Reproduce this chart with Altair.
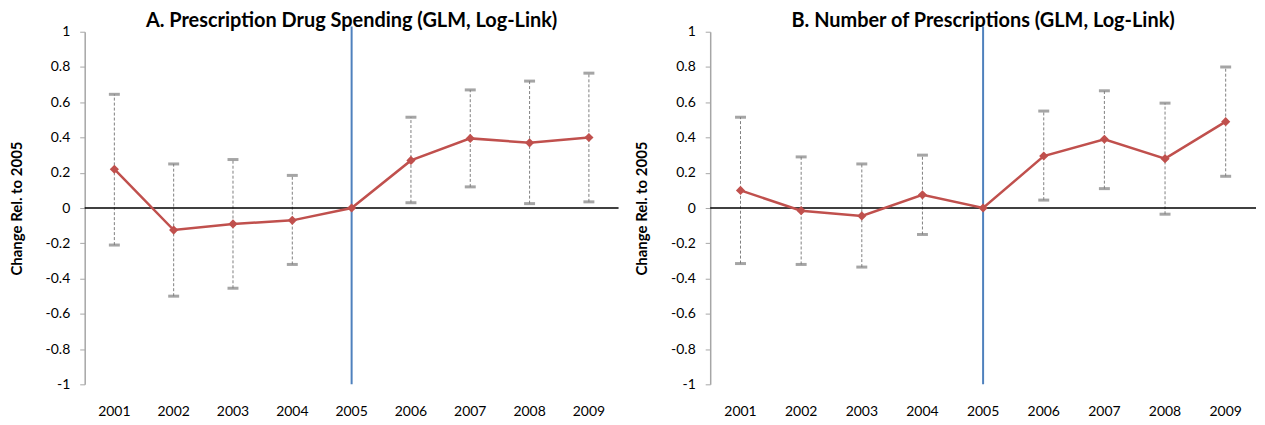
import altair as alt
import pandas as pd

years = ["2001", "2002", "2003", "2004", "2005", "2006", "2007", "2008", "2009"]

# Panel A: Prescription drug spending
a_est = [0.22, -0.125, -0.09, -0.07, 0.0, 0.27, 0.395, 0.37, 0.40]
a_lo = [-0.21, -0.50, -0.455, -0.32, None, 0.03, 0.12, 0.025, 0.035]
a_hi = [0.645, 0.25, 0.275, 0.185, None, 0.515, 0.67, 0.72, 0.765]

# Panel B: Number of prescriptions
b_est = [0.10, -0.015, -0.045, 0.075, 0.0, 0.295, 0.39, 0.28, 0.49]
b_lo = [-0.315, -0.32, -0.335, -0.15, None, 0.045, 0.11, -0.035, 0.18]
b_hi = [0.515, 0.29, 0.25, 0.30, None, 0.55, 0.665, 0.595, 0.80]

ref_year = ["2005"]
ref_top = [1.03]
ref_bottom = [-1.0]
zero_line = [0]
y_ticks = [-1, -0.8, -0.6, -0.4, -0.2, 0, 0.2, 0.4, 0.6, 0.8, 1]

title_a = "A. Prescription Drug Spending (GLM, Log-Link)"
title_b = "B. Number of Prescriptions (GLM, Log-Link)"
y_title = "Change Rel. to 2005"

FONT = "Lato"
RED = "#C0504D"
BLUE = "#4F81BD"
GRAY = "#7F7F7F"


def xenc():
    return alt.X(
        "year:O",
        sort=years,
        scale=alt.Scale(domain=years),
        axis=alt.Axis(
            title=None, labelAngle=0, domain=False, ticks=False,
            labelPadding=20, labelFontSize=14, labelFont=FONT, labelColor="#000",
        ),
    )


def yenc(field):
    return alt.Y(
        field,
        type="quantitative",
        scale=alt.Scale(domain=[-1, 1], nice=False),
        axis=alt.Axis(
            title=y_title, values=y_ticks, grid=False, labelOverlap=False,
            labelExpr="replace(format(datum.value, '.1~f'), '\u2212', '-')",
            labelFontSize=14, labelFont=FONT, labelColor="#000", labelPadding=10,
            tickSize=5, tickColor="#A6A6A6", domainColor="#A6A6A6", domainWidth=1.5,
            titleFont=FONT, titleFontSize=15, titleFontWeight="bold", titleColor="#000",
            titlePadding=21,
        ),
    )


def panel(est, lo, hi, title, width):
    df = pd.DataFrame({"year": years, "est": est, "lo": lo, "hi": hi})
    base = alt.Chart(df)
    ci = base.transform_filter("isValid(datum.lo)")

    bars = ci.mark_rule(color=GRAY, strokeWidth=1, strokeDash=[3, 2]).encode(
        x=xenc(), y=yenc("lo"), y2="hi"
    )
    cap_lo = ci.mark_tick(color=GRAY, size=11, thickness=3).encode(x=xenc(), y=yenc("lo"))
    cap_hi = ci.mark_tick(color=GRAY, size=11, thickness=3).encode(x=xenc(), y=yenc("hi"))

    zero = alt.Chart(pd.DataFrame({"z": zero_line})).mark_rule(
        color="#000", strokeWidth=1.5
    ).encode(y=yenc("z"))

    ref_df = pd.DataFrame({"year": ref_year, "top": ref_top, "bottom": ref_bottom})
    ref = alt.Chart(ref_df).mark_rule(color=BLUE, strokeWidth=2).encode(
        x=xenc(), y=yenc("top"), y2="bottom"
    )

    line = base.mark_line(color=RED, strokeWidth=2.5).encode(x=xenc(), y=yenc("est"))
    pts = base.mark_point(
        shape="diamond", filled=True, size=85, color=RED, opacity=1
    ).encode(x=xenc(), y=yenc("est"))

    return alt.layer(bars, cap_lo, cap_hi, zero, ref, line, pts).properties(
        width=width,
        height=354,
        title=alt.TitleParams(
            text=title, font=FONT, fontSize=20, fontWeight="bold", color="#000",
            anchor="middle", frame="group", offset=-6,
        ),
    )


left = panel(a_est, a_lo, a_hi, title_a, 536)
right = panel(b_est, b_lo, b_hi, title_b, 548)

chart = alt.hconcat(left, right, spacing=15).properties(
    padding={"left": 1, "top": 2, "right": 0, "bottom": 0}
).configure_view(stroke=None).configure_scale(pointPadding=0.5)

chart.save("out.html", embed_options={"renderer": "svg", "actions": False})
